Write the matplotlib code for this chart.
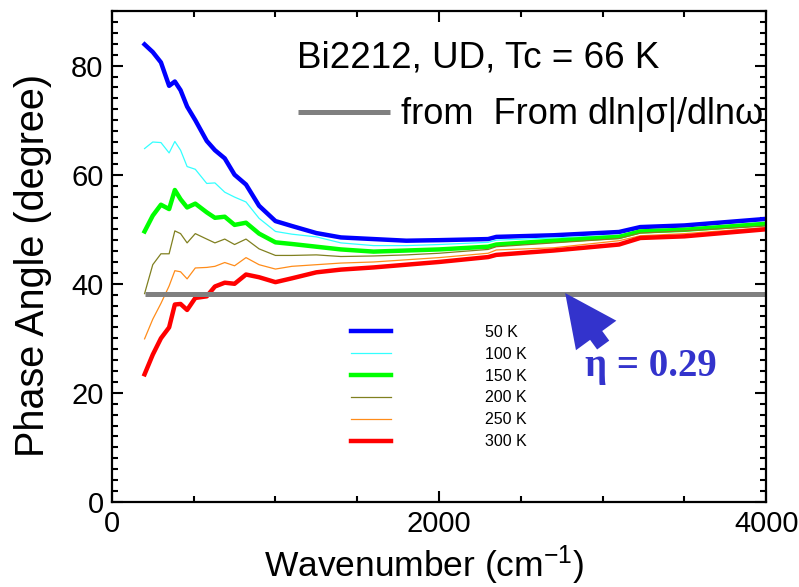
import matplotlib
matplotlib.use("Agg")
import matplotlib.pyplot as plt
from matplotlib.ticker import MultipleLocator

plt.rcParams['font.family'] = ['Liberation Sans', 'DejaVu Sans']
plt.rcParams['mathtext.fontset'] = 'custom'
plt.rcParams['mathtext.rm'] = 'Liberation Sans'
plt.rcParams['mathtext.it'] = 'Liberation Sans'

wavenumber = [200, 250, 300, 350, 385, 420, 460, 510, 580, 630, 690, 750, 820, 900,
              1000, 1100, 1250, 1400, 1600, 1800, 2000, 2300, 2350, 2700, 3100, 3230, 3500, 4000]
phase_50K = [83.9, 82.5, 80.6, 76.3, 77.1, 75.5, 72.5, 70.0, 66.2, 64.5, 63.0, 60.0, 58.2, 54.3,
             51.5, 50.6, 49.3, 48.5, 48.2, 47.9, 48.0, 48.2, 48.6, 48.9, 49.5, 50.4, 50.7, 51.9]
phase_100K = [64.8, 66.0, 65.9, 64.0, 66.1, 64.5, 61.5, 61.0, 58.4, 58.5, 56.8, 55.9, 55.0, 52.0,
              49.6, 49.1, 48.6, 47.5, 47.0, 47.0, 47.2, 47.6, 48.0, 48.4, 48.9, 49.8, 50.1, 51.3]
phase_150K = [49.6, 52.5, 54.5, 53.7, 57.2, 55.5, 54.0, 54.7, 53.1, 52.1, 52.3, 50.8, 51.2, 49.2,
              47.6, 47.3, 46.8, 46.3, 45.9, 46.1, 46.3, 46.8, 47.2, 47.9, 48.6, 49.6, 49.9, 51.0]
phase_200K = [38.2, 43.5, 45.5, 45.5, 49.7, 49.2, 47.5, 49.2, 48.2, 47.5, 48.2, 47.2, 48.2, 46.4,
              45.2, 45.2, 45.3, 45.0, 45.1, 45.3, 45.6, 46.3, 46.8, 47.5, 48.3, 49.3, 49.7, 50.6]
phase_250K = [29.9, 33.5, 36.4, 39.6, 42.4, 42.2, 40.9, 42.9, 43.0, 43.2, 43.9, 43.3, 44.8, 43.5,
              42.7, 43.2, 43.5, 43.8, 44.0, 44.4, 44.8, 45.6, 46.2, 46.6, 47.9, 48.8, 49.2, 50.3]
phase_300K = [23.4, 27.0, 30.0, 32.0, 36.2, 36.3, 35.2, 37.4, 37.7, 39.5, 40.2, 40.0, 41.7, 41.2,
              40.3, 41.0, 42.1, 42.6, 43.0, 43.5, 44.0, 44.9, 45.3, 46.1, 47.2, 48.4, 48.7, 50.0]

temp_labels = ["50 K", "100 K", "150 K", "200 K", "250 K", "300 K"]
series = [phase_50K, phase_100K, phase_150K, phase_200K, phase_250K, phase_300K]
colors = ["#0000FF", "#33FFFF", "#00FF00", "#808020", "#FF8C1A", "#FF0000"]
widths = [3.2, 0.9, 3.2, 0.9, 0.9, 3.2]

eta_x = [200, 4000]
eta_phase = [38.2, 38.2]
eta_label = "η = 0.29"
arrow_tip = (2771, 38.3)

fig = plt.figure(figsize=(7.99, 5.87), dpi=100)
ax = fig.add_axes([0.140, 0.145, 0.819, 0.836])

handles = []
for y, c, w, lab in zip(series, colors, widths, temp_labels):
    h, = ax.plot(wavenumber, y, color=c, lw=w, label=lab, solid_joinstyle='round')
    handles.append(h)

gray, = ax.plot(eta_x, eta_phase, color="#808080", lw=3.6, solid_capstyle='butt')

ax.set_xlim(0, 4000)
ax.set_ylim(0, 90)
ax.xaxis.set_major_locator(MultipleLocator(2000))
ax.xaxis.set_minor_locator(MultipleLocator(500))
ax.yaxis.set_major_locator(MultipleLocator(20))
ax.yaxis.set_minor_locator(MultipleLocator(2))
ax.tick_params(which='both', direction='in', top=True, right=True, width=1.5,
               labelsize=21, pad=6)
ax.tick_params(which='major', length=8)
ax.tick_params(which='minor', length=4)
for s in ax.spines.values():
    s.set_linewidth(1.6)

ax.set_xlabel("Wavenumber (cm$^{-1}$)", fontsize=25.5)
ax.xaxis.set_label_coords(0.477, -0.085)
ax.set_ylabel("Phase Angle (degree)", fontsize=28.5)
ax.yaxis.set_label_coords(-0.092, 0.481)

leg = ax.legend(handles=handles, loc='upper left', bbox_to_anchor=(0.354, 0.377),
                frameon=False, fontsize=11.5, handlelength=2.45, handletextpad=5.9,
                labelspacing=0.43, borderpad=0)
ax.add_artist(leg)

ax.text(0.283, 0.905, "Bi2212, UD, Tc = 66 K", transform=ax.transAxes,
        fontsize=26.5, ha='left', va='center')
leg2 = ax.legend(handles=[gray], labels=["from  From dln|σ|/dlnω"], loc='center left',
                 bbox_to_anchor=(0.257, 0.789), frameon=False, fontsize=26,
                 handlelength=2.55, handletextpad=0.3, borderpad=0)

ax.annotate("", xy=arrow_tip, xytext=(38, -52), textcoords='offset pixels',
            arrowprops=dict(arrowstyle="simple,head_length=2.1,head_width=2.0,tail_width=0.6",
                            mutation_scale=18, color="#3333CC", shrinkA=0, shrinkB=0, lw=0))
ax.text(0.823, 0.275, eta_label, transform=ax.transAxes, fontsize=28, fontweight='bold',
        family=['Liberation Serif', 'DejaVu Serif'], color="#3333CC", ha='center', va='center')

fig.savefig("out.png", dpi=100)
